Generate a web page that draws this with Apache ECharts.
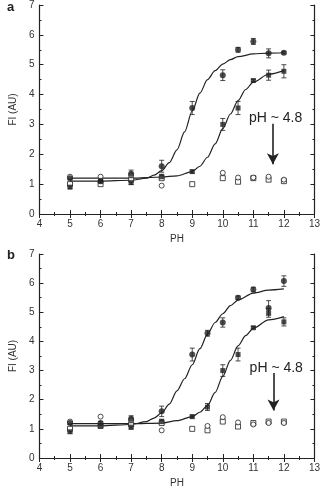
<!DOCTYPE html>
<html><head><meta charset="utf-8">
<script src="https://cdn.jsdelivr.net/npm/echarts@6/dist/echarts.min.js"></script>
<style>html,body{margin:0;padding:0;background:#fff}#c{width:323px;height:489px}</style>
</head><body><div id="c"></div>
<script>
// ---------- Panel a data ----------
const aFilledCircX = [5, 6, 7, 8, 9, 10, 10.5, 11, 11.5, 12];
const aFilledCircY = [1.2, 1.1, 1.35, 1.6, 3.55, 4.65, 5.5, 5.78, 5.38, 5.4];
const aFilledCircE = [0.05, 0.05, 0.12, 0.2, 0.22, 0.18, 0.08, 0.1, 0.15, 0.04];
const aFilledSqX = [5, 6, 7, 8, 9, 10, 10.5, 11, 11.5, 12];
const aFilledSqY = [0.9, 1.1, 1.05, 1.25, 1.42, 3.0, 3.55, 4.47, 4.65, 4.78];
const aFilledSqE = [0.05, 0.05, 0.06, 0.08, 0.05, 0.2, 0.22, 0.04, 0.17, 0.22];
const aOpenSqX = [5, 6, 7, 8, 9, 10, 10.5, 11, 11.5, 12];
const aOpenSqY = [1.0, 1.0, 1.15, 1.2, 1.0, 1.2, 1.08, 1.2, 1.15, 1.1];
const aOpenCircX = [5, 6, 7, 8, 10, 10.5, 11, 11.5, 12];
const aOpenCircY = [1.25, 1.25, 1.3, 0.95, 1.38, 1.22, 1.22, 1.25, 1.15];
const aFit1X = [5, 6, 7, 7.5, 7.75, 8, 8.25, 8.5, 8.75, 9, 9.25, 9.5, 9.75, 10, 10.25, 10.5, 11, 11.5, 12];
const aFit1Y = [1.1, 1.1, 1.13, 1.2, 1.3, 1.45, 1.72, 2.15, 2.75, 3.45, 4.05, 4.5, 4.8, 5.02, 5.17, 5.27, 5.36, 5.39, 5.4];
const aFit2X = [5, 6, 7, 8, 8.5, 9, 9.25, 9.5, 9.75, 10, 10.25, 10.5, 10.75, 11, 11.5, 12];
const aFit2Y = [1.2, 1.2, 1.2, 1.24, 1.28, 1.42, 1.6, 1.9, 2.35, 2.86, 3.35, 3.8, 4.17, 4.42, 4.68, 4.8];

// ---------- Panel b data ----------
const bFilledCircX = [5, 6, 7, 8, 9, 9.5, 10, 10.5, 11, 11.5, 12];
const bFilledCircY = [1.2, 1.2, 1.35, 1.6, 3.55, 4.28, 4.65, 5.5, 5.78, 5.15, 6.07];
const bFilledCircE = [0.05, 0.05, 0.1, 0.18, 0.22, 0.1, 0.16, 0.06, 0.08, 0.25, 0.18];
const bFilledSqX = [5, 6, 7, 8, 9, 9.5, 10, 10.5, 11, 11.5, 12];
const bFilledSqY = [0.9, 1.1, 1.05, 1.25, 1.42, 1.75, 3.0, 3.55, 4.47, 4.98, 4.67];
const bFilledSqE = [0.05, 0.05, 0.05, 0.08, 0.05, 0.12, 0.2, 0.22, 0.04, 0.15, 0.14];
const bOpenSqX = [5, 6, 7, 8, 9, 9.5, 10, 10.5, 11, 11.5, 12];
const bOpenSqY = [1.0, 1.1, 1.15, 1.2, 1.0, 0.95, 1.25, 1.08, 1.2, 1.25, 1.25];
const bOpenCircX = [5, 6, 7, 8, 9.5, 10, 10.5, 11, 11.5, 12];
const bOpenCircY = [1.25, 1.42, 1.3, 0.95, 1.1, 1.4, 1.22, 1.15, 1.2, 1.2];
const bFit1X = [5, 6, 7, 7.5, 7.75, 8, 8.25, 8.5, 8.75, 9, 9.25, 9.5, 9.75, 10, 10.25, 10.5, 11, 11.5, 12];
const bFit1Y = [1.1, 1.1, 1.15, 1.25, 1.37, 1.55, 1.85, 2.3, 2.72, 3.2, 3.75, 4.25, 4.65, 4.95, 5.23, 5.42, 5.66, 5.76, 5.8];
const bFit2X = [5, 6, 7, 8, 8.5, 9, 9.25, 9.5, 9.75, 10, 10.25, 10.5, 10.75, 11, 11.5, 12];
const bFit2Y = [1.18, 1.18, 1.18, 1.2, 1.28, 1.42, 1.57, 1.8, 2.25, 2.8, 3.35, 3.85, 4.2, 4.45, 4.74, 4.85];

// annotation
const annText = 'pH ~ 4.8';
const aArrow = [[11.64, 3.02], [11.64, 1.67]];
const aTextPos = [11.73, 3.2];
const bArrow = [[11.66, 2.92], [11.66, 1.63]];
const bTextPos = [11.75, 3.1];

const xTicks = [4, 5, 6, 7, 8, 9, 10, 11, 12, 13];
const yTicks = [0, 1, 2, 3, 4, 5, 6, 7];

const INK = '#222';
const zip = (xs, ys) => xs.map((x, i) => [x, ys[i]]);
const zip3 = (xs, ys, es) => xs.map((x, i) => [x, ys[i], es[i]]);

function axesFor(gi) {
  const common = {
    gridIndex: gi, type: 'value',
    axisLine: { show: true, lineStyle: { color: INK, width: 1.2 } },
    axisTick: { show: true, inside: true, length: 4, lineStyle: { color: INK } },
    minorTick: { show: true, splitNumber: 2, length: 2, lineStyle: { color: INK } },
    splitLine: { show: false }
  };
  const xs = [
    Object.assign({}, common, {
      min: xTicks[0], max: xTicks[xTicks.length - 1], interval: 1, position: 'bottom',
      axisLabel: { color: '#333', fontSize: 10, fontFamily: 'Liberation Sans', margin: 5 },
      name: 'PH', nameLocation: 'middle', nameGap: 20,
      nameTextStyle: { color: '#333', fontSize: 10, fontFamily: 'Liberation Sans' }
    }),
    Object.assign({}, common, {
      min: xTicks[0], max: xTicks[xTicks.length - 1], interval: 1, position: 'top',
      axisLabel: { show: false }
    })
  ];
  const ys = [
    Object.assign({}, common, {
      min: yTicks[0], max: yTicks[yTicks.length - 1], interval: 1, position: 'left',
      axisLabel: { color: '#333', fontSize: 10, fontFamily: 'Liberation Sans', margin: 5 },
      name: 'FI (AU)', nameLocation: 'middle', nameGap: 17, nameRotate: 90,
      nameTextStyle: { color: '#333', fontSize: 10, fontFamily: 'Liberation Sans' }
    }),
    Object.assign({}, common, {
      min: yTicks[0], max: yTicks[yTicks.length - 1], interval: 1, position: 'right',
      axisLabel: { show: false }
    })
  ];
  return { xs, ys };
}

const A = axesFor(0), B = axesFor(1);

function errSeries(xi, yi, data) {
  return {
    type: 'custom', xAxisIndex: xi, yAxisIndex: yi, data: data, z: 3,
    renderItem: function (params, api) {
      const x = api.value(0), y = api.value(1), e = api.value(2);
      const lo = api.coord([x, y - e]), hi = api.coord([x, y + e]);
      const w = 2.5;
      return { type: 'group', children: [
        { type: 'line', shape: { x1: lo[0], y1: lo[1], x2: hi[0], y2: hi[1] }, style: { stroke: INK, lineWidth: 0.8 } },
        { type: 'line', shape: { x1: lo[0] - w, y1: lo[1], x2: lo[0] + w, y2: lo[1] }, style: { stroke: INK, lineWidth: 0.8 } },
        { type: 'line', shape: { x1: hi[0] - w, y1: hi[1], x2: hi[0] + w, y2: hi[1] }, style: { stroke: INK, lineWidth: 0.8 } }
      ]};
    }
  };
}

function panelSeries(xi, yi, d) {
  return [
    { type: 'line', xAxisIndex: xi, yAxisIndex: yi, data: d.fit1, smooth: 0.3, smoothMonotone: 'x', showSymbol: false, lineStyle: { color: INK, width: 1.2 }, z: 2, silent: true },
    { type: 'line', xAxisIndex: xi, yAxisIndex: yi, data: d.fit2, smooth: 0.3, smoothMonotone: 'x', showSymbol: false, lineStyle: { color: INK, width: 1.2 }, z: 2, silent: true },
    errSeries(xi, yi, d.fcE),
    errSeries(xi, yi, d.fsE),
    { type: 'scatter', xAxisIndex: xi, yAxisIndex: yi, data: d.os, symbol: 'rect', symbolSize: 5, itemStyle: { color: '#fff', borderColor: INK, borderWidth: 1 }, z: 4 },
    { type: 'scatter', xAxisIndex: xi, yAxisIndex: yi, data: d.oc, symbol: 'circle', symbolSize: 5, itemStyle: { color: '#fff', borderColor: INK, borderWidth: 1 }, z: 4 },
    { type: 'scatter', xAxisIndex: xi, yAxisIndex: yi, data: d.fs, symbol: 'rect', symbolSize: 5, itemStyle: { color: INK }, z: 5 },
    { type: 'scatter', xAxisIndex: xi, yAxisIndex: yi, data: d.fc, symbol: 'circle', symbolSize: 6, itemStyle: { color: INK }, z: 5,
      markLine: { silent: true, symbol: ['none', 'arrow'], symbolSize: [9, 11],
        lineStyle: { color: INK, width: 1.6, type: 'solid' }, label: { show: false },
        data: [[{ coord: d.arrow[0] }, { coord: d.arrow[1] }]] },
      markPoint: { silent: true, symbol: 'circle', symbolSize: 0,
        label: { show: true, formatter: annText, color: '#222', fontSize: 14, fontFamily: 'Liberation Sans' },
        data: [{ coord: d.text }] } }
  ];
}

const chart = echarts.init(document.getElementById('c'), null, { renderer: 'canvas' });
chart.setOption({
  animation: false,
  backgroundColor: '#fff',
  grid: [
    { left: 31, right: 8, top: 4, height: 210 },
    { left: 31, right: 8, top: 254, height: 208 }
  ],
  title: [
    { text: 'a', left: 2, top: -4, textStyle: { fontSize: 13, fontWeight: 'bold', color: '#222', fontFamily: 'Liberation Sans' } },
    { text: 'b', left: 2, top: 244, textStyle: { fontSize: 13, fontWeight: 'bold', color: '#222', fontFamily: 'Liberation Sans' } }
  ],
  xAxis: A.xs.concat(B.xs),
  yAxis: A.ys.concat(B.ys),
  series: panelSeries(0, 0, {
    fit1: zip(aFit1X, aFit1Y), fit2: zip(aFit2X, aFit2Y),
    fc: zip(aFilledCircX, aFilledCircY), fs: zip(aFilledSqX, aFilledSqY),
    fcE: zip3(aFilledCircX, aFilledCircY, aFilledCircE), fsE: zip3(aFilledSqX, aFilledSqY, aFilledSqE),
    os: zip(aOpenSqX, aOpenSqY), oc: zip(aOpenCircX, aOpenCircY),
    arrow: aArrow, text: aTextPos
  }).concat(panelSeries(2, 2, {
    fit1: zip(bFit1X, bFit1Y), fit2: zip(bFit2X, bFit2Y),
    fc: zip(bFilledCircX, bFilledCircY), fs: zip(bFilledSqX, bFilledSqY),
    fcE: zip3(bFilledCircX, bFilledCircY, bFilledCircE), fsE: zip3(bFilledSqX, bFilledSqY, bFilledSqE),
    os: zip(bOpenSqX, bOpenSqY), oc: zip(bOpenCircX, bOpenCircY),
    arrow: bArrow, text: bTextPos
  }))
});
</script></body></html>
